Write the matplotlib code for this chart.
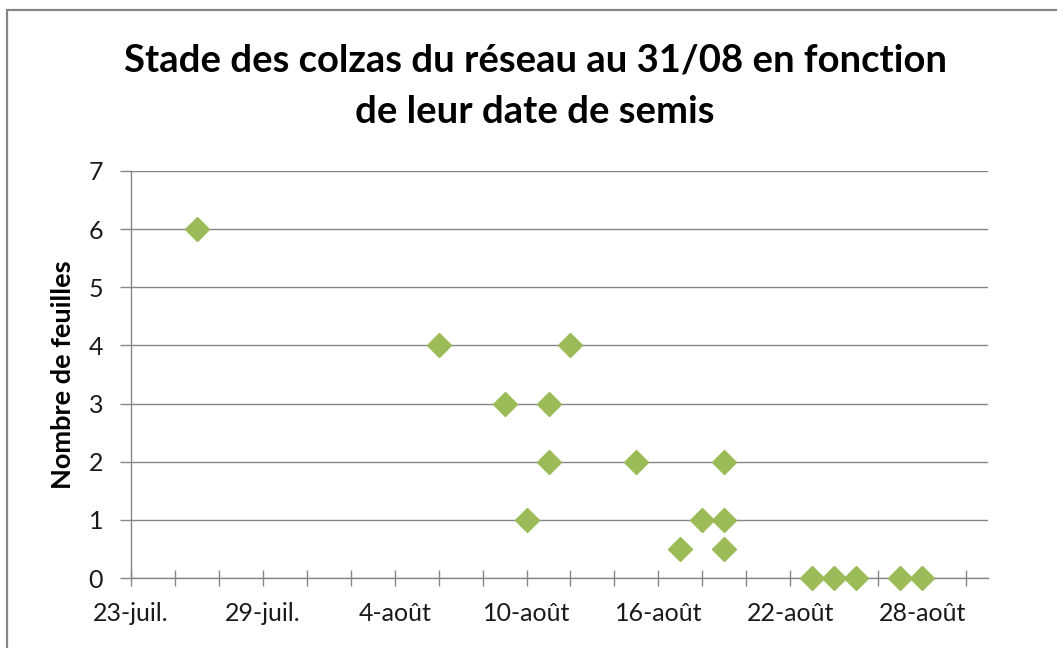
import numpy as np
import pandas as pd
import matplotlib
matplotlib.use("Agg")
import matplotlib.pyplot as plt
import matplotlib.dates as mdates
from matplotlib.patches import Rectangle

# sowing dates and number of leaves at 31/08
semis = ['2012-07-26', '2012-08-06', '2012-08-09', '2012-08-10', '2012-08-11',
         '2012-08-11', '2012-08-12', '2012-08-15', '2012-08-17', '2012-08-18',
         '2012-08-19', '2012-08-19', '2012-08-19', '2012-08-23', '2012-08-24',
         '2012-08-25', '2012-08-27', '2012-08-28']
feuilles = [6, 4, 3, 1, 3, 2, 4, 2, 0.5, 1, 2, 1, 0.5, 0, 0, 0, 0, 0]

tick_dates = ['2012-07-23', '2012-07-29', '2012-08-04', '2012-08-10',
              '2012-08-16', '2012-08-22', '2012-08-28']
tick_labels = ['23-juil.', '29-juil.', '4-août', '10-août', '16-août', '22-août', '28-août']

x_min, x_max = '2012-07-23', '2012-08-31'

plt.rcParams['font.family'] = ['Lato', 'DejaVu Sans']

fig = plt.figure(figsize=(10.57, 6.48), dpi=100)
ax = fig.add_axes([131/1057, 1 - 578/648, (988-131)/1057, (578-171)/648])

# outer chart border
fig.patches.append(Rectangle((7/1057, -0.1), 1.2, 1 - 10/648 + 0.1, transform=fig.transFigure,
                             fill=False, edgecolor='#868686', linewidth=1.6))

x = pd.to_datetime(semis)
ax.plot(x, feuilles, linestyle='none', marker='D', markersize=12.5,
        color='#9BBB59', clip_on=False, zorder=5)

ax.set_xlim(pd.Timestamp(x_min), pd.Timestamp(x_max))
ax.set_ylim(0, 7)

ax.set_xticks(pd.to_datetime(tick_dates))
ax.set_xticklabels(tick_labels)
ax.xaxis.set_minor_locator(mdates.DayLocator(interval=2))
ax.set_yticks(range(0, 8))

ax.tick_params(axis='x', which='both', direction='inout', length=12, width=1,
               color='#868686', labelsize=18, pad=11, labelcolor='#1a1a1a')
ax.tick_params(axis='y', direction='out', length=8, width=1, color='#868686',
               labelsize=18, pad=12, labelcolor='#1a1a1a')

ax.grid(axis='y', color='#868686', linewidth=1)
ax.set_axisbelow(True)
for s in ['top', 'right']:
    ax.spines[s].set_visible(False)
for s in ['left', 'bottom']:
    ax.spines[s].set_color('#868686')
    ax.spines[s].set_linewidth(1)

ax.set_ylabel('Nombre de feuilles', fontsize=19.5, fontweight='bold', labelpad=10)

fig.text(535/1057, 1 - 60/648, 'Stade des colzas du réseau au 31/08 en fonction',
         ha='center', va='center', fontsize=27.5, fontweight='bold')
fig.text(535/1057, 1 - 112/648, 'de leur date de semis',
         ha='center', va='center', fontsize=27.5, fontweight='bold')

fig.savefig('out.png', dpi=100)
